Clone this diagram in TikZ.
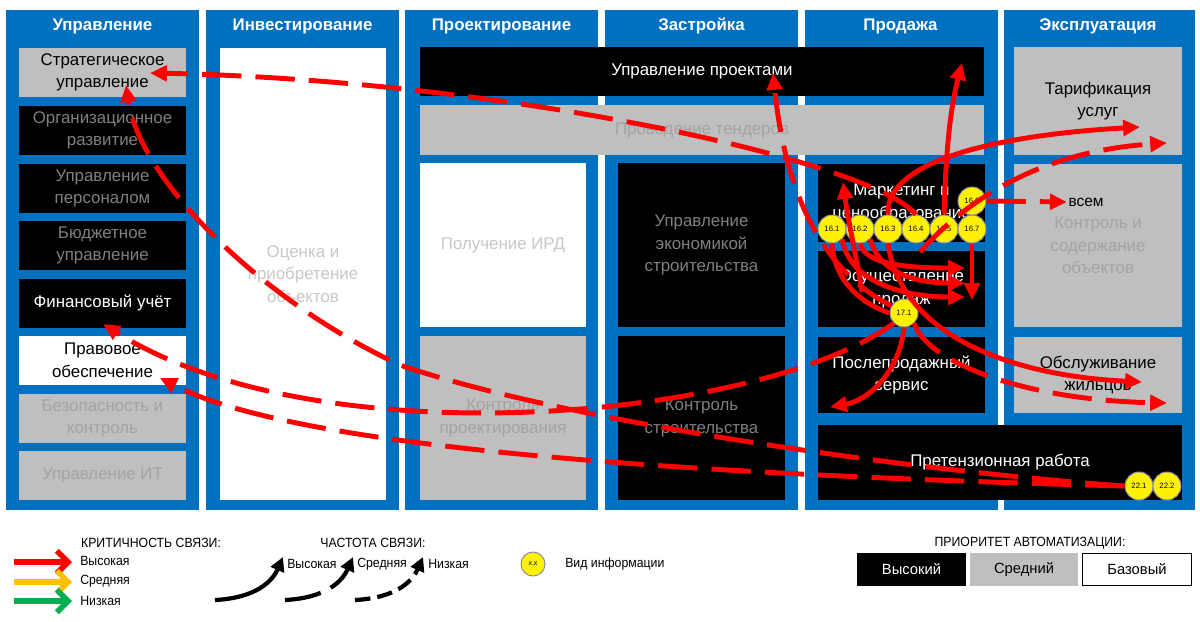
\documentclass[tikz,border=0pt]{standalone}
\usepackage{fontspec}
\setmainfont{Liberation Sans}
\newfontfamily\narrowfont[FakeStretch=0.92]{Liberation Sans}
\usetikzlibrary{arrows.meta}
\definecolor{pblue}{HTML}{0070C0}
\definecolor{bgray}{HTML}{BFBFBF}
\definecolor{tgk}{HTML}{808080}
\definecolor{tgg}{HTML}{A3A3A3}
\definecolor{tgw}{HTML}{C8C8C8}
\definecolor{cedge}{HTML}{8A8AA8}
\definecolor{lorange}{HTML}{FFC000}
\definecolor{lgreen}{HTML}{00B050}
\begin{document}
\begin{tikzpicture}[x=0.025cm,y=-0.025cm,
 sz/.style 2 args={minimum width=#1*0.025cm, minimum height=#2*0.025cm},
 panel/.style={fill=pblue, inner sep=0},
 hdr/.style={text=white, font=\fontsize{12}{14}\selectfont\bfseries},
 boxfont/.style={inner sep=0, align=center, font=\fontsize{12}{16}\selectfont},
 blk/.style={boxfont, fill=black},
 gry/.style={boxfont, fill=bgray},
 wht/.style={boxfont, fill=white},
 info/.style={circle, fill=yellow, draw=cedge, line width=0.7pt, minimum size=28*0.025cm, inner sep=0, font=\fontsize{5.5}{6}\selectfont},
 ra/.style={draw=red, line width=3.5pt, -{Triangle[length=12pt,width=11pt]}},
 rd/.style={ra, dash pattern=on 28pt off 10pt},
 rl/.style={draw=red, line width=3.5pt},
 legtxt/.style={font=\narrowfont\fontsize{9.5}{11}\selectfont},
 legc/.style={line width=4pt, -{Straight Barb[length=8pt,width=16pt]}},
 legf/.style={draw=black, line width=3pt, -{Triangle[length=10pt,width=10pt]}},
 prio/.style={inner sep=0, font=\fontsize{10.5}{12}\selectfont, sz={108}{33}},
]
\fill[white] (0,0) rectangle (1200,621);
\useasboundingbox (0,0) rectangle (1200,621);

% panels
\node[panel, sz={193}{500}] (p1) at (102.5,260) {};
\node[panel, sz={193}{500}] (p2) at (302.5,260) {};
\node[panel, sz={193}{500}] (p3) at (501.5,260) {};
\node[panel, sz={193}{500}] (p4) at (701.5,260) {};
\node[panel, sz={193}{500}] (p5) at (901.5,260) {};
\node[panel, sz={191}{500}] (p6) at (1099.5,260) {};

\node[hdr] (h1) at (102.5,26) {Управление};
\node[hdr] (h2) at (302.5,26) {Инвестирование};
\node[hdr] (h3) at (501.5,26) {Проектирование};
\node[hdr] (h4) at (701.5,26) {Застройка};
\node[hdr] (h5) at (900.5,26) {Продажа};
\node[hdr] (h6) at (1098,26) {Эксплуатация};

% column 1
\node[gry, sz={167}{49}, text=black] (strat) at (102.5,72.5) {Стратегическое\\управление};
\node[blk, sz={167}{49}, text=tgk] (org) at (102.5,130.5) {Организационное\\развитие};
\node[blk, sz={167}{49}, text=tgk] (pers) at (102.5,188.5) {Управление\\персоналом};
\node[blk, sz={167}{49}, text=tgk] (budg) at (102.5,245.5) {Бюджетное\\управление};
\node[blk, sz={167}{49}, text=white] (fin) at (102.5,303) {Финансовый учёт};
\node[wht, sz={167}{49}, text=black] (law) at (102.5,360.5) {Правовое\\обеспечение};
\node[gry, sz={167}{49}, text=tgg] (sec) at (102.5,418.5) {Безопасность и\\контроль};
\node[gry, sz={167}{49}, text=tgg] (it) at (102.5,475.5) {Управление ИТ};

% column 2
\node[wht, sz={166}{452}, text=tgw] (inv) at (303,274) {Оценка и\\приобретение\\объектов};

% columns 3-4
\node[blk, sz={564}{49}, text=white] (pm) at (702,71.5) {Управление проектами};
\node[gry, sz={564}{50}, text=tgg] (tend) at (702,130) {Проведение тендеров};
\node[wht, sz={166}{164}, text=tgw] (ird) at (503,245) {Получение ИРД};
\node[gry, sz={166}{164}, text=tgg] (kpr) at (503,418) {Контроль\\проектирования};
\node[blk, sz={167}{164}, text=tgk] (eco) at (701.5,245) {Управление\\экономикой\\строительства};
\node[blk, sz={167}{164}, text=tgk] (kst) at (701.5,418) {Контроль\\строительства};

% column 5
\node[blk, sz={167}{78}, text=white] (mkt) at (901.5,203) {Маркетинг и\\ценообразование};
\node[blk, sz={167}{76}, text=white] (sales) at (901.5,289) {Осуществление\\продаж};
\node[blk, sz={167}{76}, text=white] (after) at (901.5,375) {Послепродажный\\сервис};
\node[blk, sz={364}{75}, text=white] (claim) at (1000,462.5) {Претензионная работа};

% column 6
\node[gry, sz={168}{108}, text=black] (tarif) at (1098,101) {Тарификация\\услуг};
\node[gry, sz={168}{163}, text=tgg] (kso) at (1098,245.5) {Контроль и\\содержание\\объектов};
\node[gry, sz={168}{76}, text=black] (serv) at (1098,375) {Обслуживание\\жильцов};

% information circles
\node[info] (c161) at (832,229) {16.1};
\node[info] (c162) at (860,229) {16.2};
\node[info] (c163) at (888,229) {16.3};
\node[info] (c164) at (916,229) {16.4};
\node[info] (c165) at (944,229) {16.5};
\node[info] (c167) at (972,229) {16.7};
\node[info] (c166) at (972,201) {16.6};
\node[info] (c171) at (904,313) {17.1};
\node[info] (c221) at (1139,486) {22.1};
\node[info] (c222) at (1167,486) {22.2};

\node[font=\fontsize{11}{12}\selectfont, inner sep=1pt] (all) at (1086,202) {всем};

% free ends
\coordinate (tStratA) at (150,73);
\coordinate (tStratB) at (126,85);
\coordinate (tFin) at (103,324);
\coordinate (tLaw) at (160,378);
\coordinate (tPM1) at (773,73);
\coordinate (tPM2) at (962,63);
\coordinate (tTarA) at (1140,127);
\coordinate (tTarB) at (1167,143);
\coordinate (sC) at (920,252);
\coordinate (sF) at (862,292);
\coordinate (tF) at (843,182);
\coordinate (tH1) at (965,268);
\coordinate (tH2) at (965,283);
\coordinate (tH3) at (965,297);
\coordinate (tJ) at (972,300);
\coordinate (tServA) at (1142,382);
\coordinate (tServB) at (1167,403);
\coordinate (tN) at (830,407);

% connectors
\draw[rd] (c164.north) .. controls (870,160) and (500,80) .. (tStratA);
\draw[ra] (c163.north) .. controls (885,160) and (1000,135) .. (tTarA);
\draw[rd] (sC) .. controls (980,185) and (1060,150) .. (tTarB);
\draw[ra] (c165.north) .. controls (946,150) and (950,110) .. (tPM2);
\draw[rd] (c171.150) .. controls (820,270) and (785,190) .. (tPM1);
\draw[ra] (sF) .. controls (855,250) and (848,220) .. (tF);
\draw[rl] (c161.south) .. controls (834,280) and (860,303) .. (c171.west);
\draw[ra] (c162.south) .. controls (865,265) and (910,268) .. (tH1);
\draw[ra] (c162.south east) .. controls (880,275) and (920,283) .. (tH2);
\draw[ra] (c161.south east) .. controls (850,285) and (910,297) .. (tH3);
\draw[ra] (c167.south) -- (tJ);
\draw[rd] (c166.east) -- (all.west);
\draw[ra] (c163.south) .. controls (900,330) and (1000,375) .. (tServA);
\draw[rd] (c171.south east) .. controls (925,360) and (1020,400) .. (tServB);
\draw[ra] (c171.south) .. controls (900,370) and (870,400) .. (tN);
\draw[rd] (c171.south west) .. controls (760,420) and (320,460) .. (tFin);
\draw[rd] (c221.west) .. controls (700,475) and (300,450) .. (tLaw);
\draw[rd] (c221.west) .. controls (900,470) and (560,420) .. (400,365) .. controls (260,300) and (140,180) .. (tStratB);

% legend: criticality
\node[legtxt] (critT) at (151,543) {КРИТИЧНОСТЬ СВЯЗИ:};
\coordinate (lr1) at (14,562); \coordinate (lr2) at (72,562);
\coordinate (lo1) at (14,582); \coordinate (lo2) at (72,582);
\coordinate (lg1) at (14,601); \coordinate (lg2) at (72,601);
\draw[legc, draw=red] (lr1) -- (lr2);
\draw[legc, draw=lorange] (lo1) -- (lo2);
\draw[legc, draw=lgreen] (lg1) -- (lg2);
\node[legtxt, anchor=west, inner sep=0] (lrT) at (80,561) {Высокая};
\node[legtxt, anchor=west, inner sep=0] (loT) at (80,581) {Средняя};
\node[legtxt, anchor=west, inner sep=0] (lgT) at (80,601) {Низкая};

% legend: frequency
\node[legtxt] (freqT) at (373,543) {ЧАСТОТА СВЯЗИ:};
\coordinate (f1a) at (215,600); \coordinate (f1b) at (283,557);
\coordinate (f2a) at (285,600); \coordinate (f2b) at (353,557);
\coordinate (f3a) at (355,600); \coordinate (f3b) at (423,557);
\draw[legf] (f1a) .. controls (255,598) and (272,582) .. (f1b);
\draw[legf, dash pattern=on 26pt off 8pt] (f2a) .. controls (325,598) and (342,582) .. (f2b);
\draw[legf, dash pattern=on 11pt off 5pt] (f3a) .. controls (395,598) and (412,582) .. (f3b);
\node[legtxt, anchor=west, inner sep=0] (f1T) at (287,564) {Высокая};
\node[legtxt, anchor=west, inner sep=0] (f2T) at (357,564) {Средняя};
\node[legtxt, anchor=west, inner sep=0] (f3T) at (428,564) {Низкая};

% legend: information
\node[info, minimum size=24*0.025cm, font=\fontsize{5}{6}\selectfont] (lx) at (533,564) {x.x};
\node[legtxt, anchor=west, inner sep=0] (lxT) at (565,564) {Вид информации};

% legend: priority
\node[legtxt] (prT) at (1030,543) {ПРИОРИТЕТ АВТОМАТИЗАЦИИ:};
\node[prio, fill=black, text=white, sz={109}{33}] (prHi) at (911.5,569.5) {Высокий};
\node[prio, fill=bgray, text=black] (prMid) at (1024,569.5) {Средний};
\node[prio, fill=white, draw=black, line width=0.8pt, text=black, sz={109}{32}] (prBase) at (1137,569.5) {Базовый};
\end{tikzpicture}
\end{document}
